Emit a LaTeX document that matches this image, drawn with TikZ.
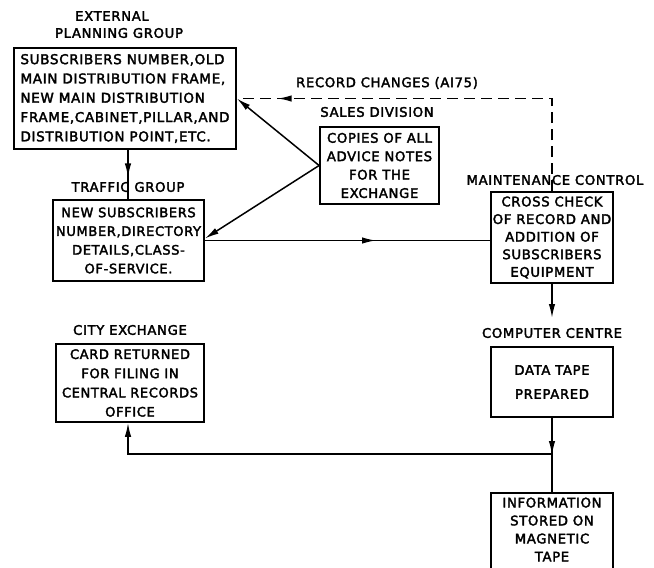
\documentclass[tikz,border=0pt]{standalone}
\usepackage{fontspec}
\newfontfamily\lett[LetterSpace=5,FakeBold=2.5]{DejaVu Sans}
\usetikzlibrary{arrows.meta,decorations.markings}
\tikzset{
  lettering/.style={font=\lett\fontsize{13.2}{19}\selectfont},
  box/.style={draw, line width=1.8pt, inner sep=0pt, align=center, lettering},
  title/.style={inner sep=0pt, align=center, lettering},
  conn/.style={line width=1.5pt},
  tip/.style={-{Latex[length=14pt,width=6.5pt]}},
  midarrow/.style={postaction={decorate},decoration={markings,mark=at position #1 with {\arrow{Latex[length=14pt,width=6.5pt]}}}},
}
\begin{document}
\begin{tikzpicture}[x=1pt,y=-1pt]
\useasboundingbox (0,0) rectangle (654,568);
% boxes
\node[box, align=left, minimum width=222pt, minimum height=101pt, font=\lett\fontsize{13.5}{19.3}\selectfont] (ext) at (125,98.5)
  {SUBSCRIBERS NUMBER,OLD\\MAIN DISTRIBUTION FRAME,\\NEW MAIN DISTRIBUTION\\FRAME,CABINET,PILLAR,AND\\DISTRIBUTION POINT,ETC.};
\node[box, minimum width=151pt, minimum height=81pt, font=\lett\fontsize{13}{18.7}\selectfont] (traffic) at (128.5,240.5)
  {NEW SUBSCRIBERS\\NUMBER,DIRECTORY\\DETAILS,CLASS-\\OF-SERVICE.};
\node[box, minimum width=119pt, minimum height=77pt, font=\lett\fontsize{13.2}{18.4}\selectfont] (sales) at (379.5,165.5)
  {COPIES OF ALL\\ADVICE NOTES\\FOR THE\\EXCHANGE};
\node[box, minimum width=122pt, minimum height=91pt, font=\lett\fontsize{13.2}{17.6}\selectfont] (maint) at (552,237.5)
  {CROSS CHECK\\OF RECORD AND\\ADDITION OF\\SUBSCRIBERS\\EQUIPMENT};
\node[box, minimum width=122pt, minimum height=70pt, font=\lett\fontsize{13.2}{24}\selectfont] (comp) at (552,382)
  {DATA TAPE\\PREPARED};
\node[box, minimum width=148pt, minimum height=78pt, font=\lett\fontsize{13}{19.2}\selectfont] (city) at (130,383)
  {CARD RETURNED\\FOR FILING IN\\CENTRAL RECORDS\\OFFICE};
\node[box, minimum width=122pt, minimum height=78pt] (info) at (552,532) {};
\node[title, font=\lett\fontsize{13.2}{18}\selectfont] (infotext) at (552,529.5) {INFORMATION\\STORED ON\\MAGNETIC\\TAPE};
% titles
\node[title] (t1) at (112,16) {EXTERNAL};
\node[title] (t1b) at (119,33) {PLANNING GROUP};
\node[title] (t2) at (128,187) {TRAFFIC GROUP};
\node[title] (t3) at (377,112) {SALES DIVISION};
\node[title] (t4) at (555,180) {MAINTENANCE CONTROL};
\node[title] (t5) at (552,333) {COMPUTER CENTRE};
\node[title] (t6) at (130,330) {CITY EXCHANGE};
\node[title] (t7) at (387,83) {RECORD CHANGES (AI75)};
% connectors
\coordinate (mc) at (552,318);
\coordinate (j) at (552,454);
\draw[conn, midarrow=0.56] ([xshift=3pt]ext.south) -- ([xshift=-0.5pt]traffic.north);
\draw[conn, tip] (sales.west) -- (ext.east);
\draw[conn, tip] (sales.west) -- ([yshift=2pt]traffic.east);
\draw[conn, dash pattern=on 11pt off 6pt, midarrow=0.9] (maint.north) |- (ext.east);
\draw[conn, midarrow=0.6] (traffic.east) -- (traffic.east -| maint.west);
\draw[conn, tip] (maint.south) -- (mc);
\draw[conn, midarrow=0.5] (comp.south) -- (info.north);
\draw[conn, tip] (j) -| ([xshift=-2pt]city.south);
\end{tikzpicture}
\end{document}
